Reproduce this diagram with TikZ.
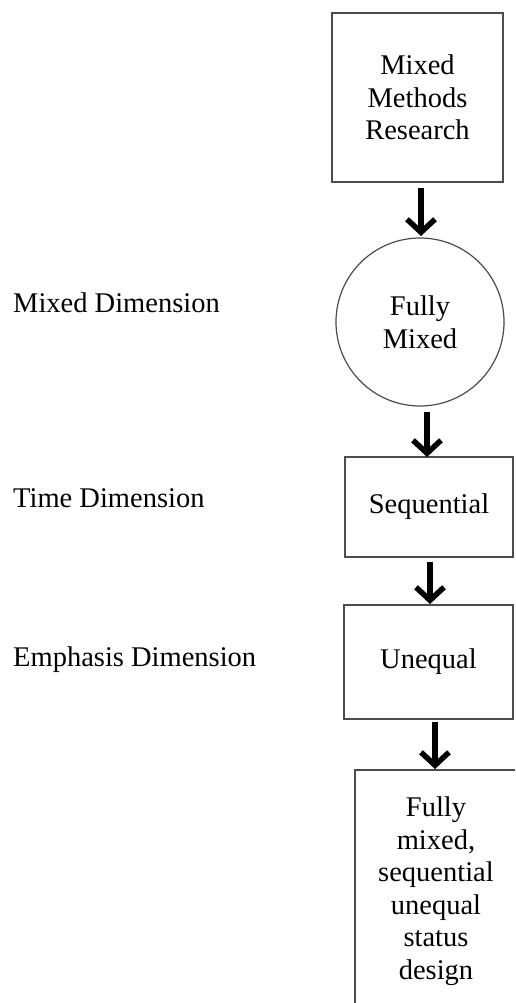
\documentclass[tikz,border=0pt]{standalone}
\usepackage{fontspec}
\setmainfont{Liberation Serif}
\usetikzlibrary{arrows.meta}
\begin{document}
\begin{tikzpicture}[x=1pt,y=1pt,
  every node/.style={font=\fontsize{28.5}{32.5}\selectfont, text=black},
  boxnode/.style={draw=black!70, line width=1.6pt, rectangle, align=center, inner sep=0pt},
  circnode/.style={draw=black!70, line width=1.2pt, circle, align=center, inner sep=0pt, minimum size=168pt},
  dimlabel/.style={anchor=west, inner sep=0pt},
  flowarrow/.style={line width=5.5pt, -{Straight Barb[length=13pt,width=28pt]}}
]
\useasboundingbox (0,0) rectangle (515,-1003);
\begin{scope}
\clip (0,0) rectangle (515,-1003);
\node[boxnode, minimum width=171pt, minimum height=169pt] (mmr) at (417.5,-97.5) {Mixed\\Methods\\Research};
\node[circnode] (fm) at (420,-322) {Fully\\Mixed};
\node[boxnode, minimum width=168pt, minimum height=100pt] (seq) at (429,-507) {Sequential};
\node[boxnode, minimum width=169pt, minimum height=114pt] (uneq) at (428.5,-662) {Unequal};
\node[boxnode, minimum width=162pt, minimum height=242pt] (final) at (436,-891) {Fully\\mixed,\\sequential\\unequal\\status\\design};
\end{scope}
\node[dimlabel] (lmix) at (13,-303) {Mixed Dimension};
\node[dimlabel] (ltime) at (13,-498) {Time Dimension};
\node[dimlabel] (lemph) at (13,-660) {Emphasis Dimension};
\coordinate (a1s) at (421,-188); \coordinate (a1e) at (421,-236);
\coordinate (a2s) at (427,-412); \coordinate (a2e) at (427,-457);
\coordinate (a3s) at (430,-562); \coordinate (a3e) at (430,-604);
\coordinate (a4s) at (435,-722); \coordinate (a4e) at (435,-769);
\draw[flowarrow] (a1s) -- (a1e);
\draw[flowarrow] (a2s) -- (a2e);
\draw[flowarrow] (a3s) -- (a3e);
\draw[flowarrow] (a4s) -- (a4e);
\end{tikzpicture}
\end{document}
